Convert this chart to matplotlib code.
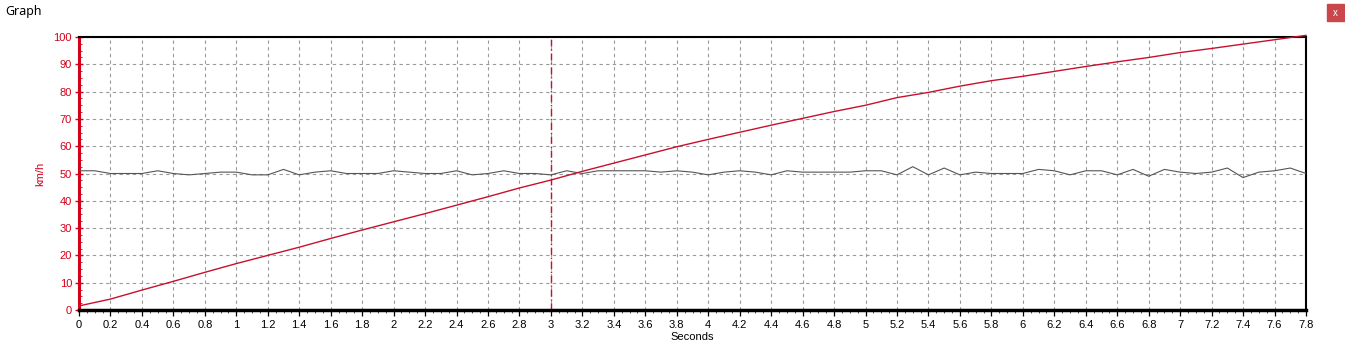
import numpy as np
import matplotlib
matplotlib.use("Agg")
import matplotlib.pyplot as plt
from matplotlib.ticker import MultipleLocator, FixedLocator
from matplotlib.patches import Rectangle

plt.rcParams['font.family'] = ['Liberation Sans', 'DejaVu Sans']

# Data
speed_t = [round(0.2 * i, 1) for i in range(40)]
speed_kmh = [1.5, 4, 7.3, 10.5, 13.8, 17, 20, 23, 26.2, 29.3, 32.3, 35.3, 38.4, 41.5,
             44.7, 47.6, 50.8, 53.8, 56.8, 59.8, 62.5, 65.1, 67.7, 70.2, 72.7, 75,
             77.8, 79.7, 82, 84, 85.6, 87.4, 89.2, 90.9, 92.5, 94.3, 95.8, 97.4, 99, 100.6]

aux_t = [round(0.1 * i, 1) for i in range(79)]
aux_val = [51, 51, 50, 50, 50, 51, 50, 49.5, 50, 50.5, 50.5, 49.5, 49.5, 51.5, 49.5,
           50.5, 51, 50, 50, 50, 51, 50.5, 50, 50, 51, 49.5, 50, 51, 50, 50,
           49.5, 51, 50, 51, 51, 51, 51, 50.5, 51, 50.5, 49.5, 50.5, 51, 50.5, 49.5,
           51, 50.5, 50.5, 50.5, 50.5, 51, 51, 49.5, 52.5, 49.5, 52, 49.5, 50.5, 50,
           50, 50, 51.5, 51, 49.5, 51, 51, 49.5, 51.5, 49, 51.5, 50.5, 50, 50.5,
           52, 48.5, 50.5, 51, 52, 50]

cursor_t = 3.0

x_ticks = [round(0.2 * i, 1) for i in range(40)]
x_labels = [("%g" % v) for v in x_ticks]
y_ticks = list(range(0, 101, 10))

RED = "#d4001a"
fig = plt.figure(figsize=(13.45, 3.54), dpi=100)
ax = fig.add_axes([79 / 1345, 1 - 310 / 354, (1306 - 79) / 1345, (310 - 37) / 354])

ax.plot(aux_t, aux_val, color="#555555", lw=0.8, zorder=3)
ax.plot(speed_t, speed_kmh, color="#c8102e", lw=1.0, zorder=4, clip_on=False)
ax.axvline(cursor_t, color="#c8102e", lw=1.0, ls=(0, (5, 2, 1, 2)), zorder=2)

ax.set_xlim(0, 7.8)
ax.set_ylim(0, 100)
ax.xaxis.set_major_locator(FixedLocator(x_ticks))
ax.set_xticklabels(x_labels)
ax.xaxis.set_minor_locator(MultipleLocator(0.05))
ax.yaxis.set_major_locator(FixedLocator(y_ticks))
ax.yaxis.set_minor_locator(MultipleLocator(2.5))

ax.grid(True, which="major", color="#9a9a9a", ls=(0, (3, 3)), lw=0.8)
ax.tick_params(axis="x", which="major", direction="out", length=4, width=0.9,
               labelsize=8, colors="black", pad=3)
ax.tick_params(axis="x", which="minor", direction="out", length=2, width=0.6,
               colors="#333333")
ax.tick_params(axis="y", which="major", direction="inout", length=6, width=1,
               labelsize=8, colors=RED, pad=2)
ax.tick_params(axis="y", which="minor", direction="in", length=2, width=0.6, colors=RED)

for s in ["top", "right"]:
    ax.spines[s].set_color("black")
    ax.spines[s].set_linewidth(1.5)
ax.spines["bottom"].set_color("black")
ax.spines["bottom"].set_linewidth(2.5)
ax.spines["left"].set_color(RED)
ax.spines["left"].set_linewidth(2.2)

ax.set_xlabel("Seconds", fontsize=8, labelpad=2)
ax.set_ylabel("km/h", fontsize=8, color=RED, labelpad=6)

fig.text(5 / 1345, 1 - 11 / 354, "Graph", fontsize=9, va="center", ha="left",
         family=["Noto Sans", "DejaVu Sans"])
fig.patches.append(Rectangle((1327 / 1345, 1 - 21 / 354), 17 / 1345, 17 / 354,
                             transform=fig.transFigure, color="#c9474a", zorder=5))
fig.text(1335.5 / 1345, 1 - 12.5 / 354, "x", fontsize=7, color="white",
         ha="center", va="center", zorder=6)

fig.savefig("out.png", dpi=100)
